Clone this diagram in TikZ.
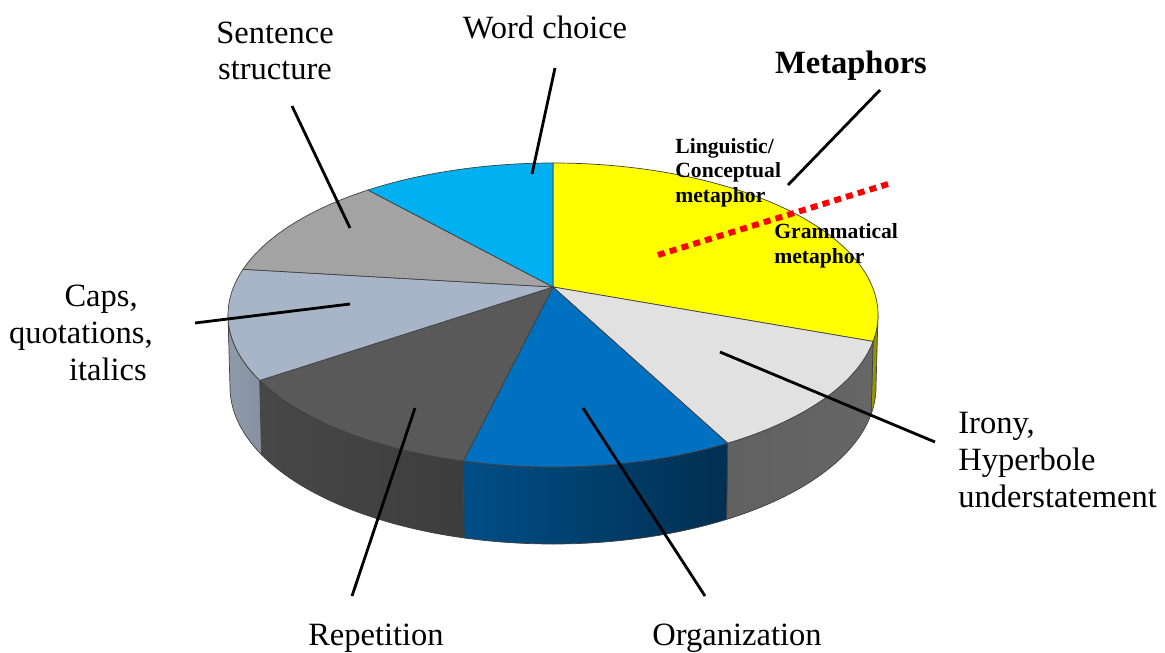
\documentclass[tikz,border=0pt]{standalone}
\usepackage{fontspec}
\setmainfont{Liberation Serif}
\usepackage{xcolor}
\usepackage{tikz}
\usetikzlibrary{positioning, calc}

\definecolor{metaYel}{HTML}{FFFF00}
\definecolor{ironyGray}{HTML}{E1E1E1}
\definecolor{orgBlue}{HTML}{0070C0}
\definecolor{repGray}{HTML}{595959}
\definecolor{capsSteel}{HTML}{A8B5C8}
\definecolor{sentGray}{HTML}{A3A3A3}
\definecolor{wordBlue}{HTML}{00B0F0}

\begin{document}
\begin{tikzpicture}[
  x=0.02cm, y=0.02cm,
  font=\fontsize{18.5}{21}\selectfont,
  slice/.style={draw=black!75, line width=0.4pt},
  wall/.style={draw=black!75, line width=0.4pt},
  lbl/.style={inner sep=0pt, anchor=base},
  small/.style={inner sep=0pt, anchor=base west, align=left,
    font=\fontsize{12.3}{13.9}\selectfont\bfseries},
  leader/.style={line width=1.6pt},
  cut/.style={draw=red, line width=3.4pt, dash pattern=on 4pt off 3pt},
]
  \useasboundingbox (0,0) rectangle (1165,-652);

  % Side walls (front half only)
  \foreach \a/\b/\colL/\colR in {0/-10/yellow!60!black/yellow!55!black,
                                -10/-57.5/black!62/black!60,
                                -57.5/-106/orgBlue!70!black/orgBlue!42!black,
                                -106/-154.5/black!72/black!76,
                                -154.5/-180/capsSteel!85!black/capsSteel!80!black}
    \path[wall, left color=\colL, right color=\colR]
      ([shift={(553,-315)}]\a:325 and 152)
      arc[start angle=\a, end angle=\b, x radius=325, y radius=152]
      -- ([shift={(553,-387)}]\b:323 and 157)
      arc[start angle=\b, end angle=\a, x radius=323, y radius=157] -- cycle;

  % Top slices
  \foreach \a/\b/\col in {90/-10/metaYel, -10/-57.5/ironyGray,
                          -57.5/-106/orgBlue, -106/-154.5/repGray,
                          205.5/162.5/capsSteel, 162.5/124.7/sentGray,
                          124.7/90/wordBlue}
    \filldraw[slice, fill=\col] (553,-287)
      -- ([shift={(553,-315)}]\a:325 and 152)
      arc[start angle=\a, end angle=\b, x radius=325, y radius=152] -- cycle;

  % Labels (base = last line)
  \node[lbl] (wordC) at (545,-39) {Word choice};
  \node[lbl, align=center] (sentS) at (275,-80) {Sentence\\structure};
  \node[lbl, font=\fontsize{18.5}{21}\selectfont\bfseries] (metaN) at (851,-73) {Metaphors};
  \node[small] (lingN) at (675,-202) {Linguistic/\\Conceptual\\metaphor};
  \node[small] (gramN) at (774,-263) {Grammatical\\metaphor};
  \node[lbl, anchor=base east, align=right] (capsN) at (153,-380)
    {Caps,\hspace*{0.46em}\\quotations,\\italics\hspace*{0.18em}};
  \node[lbl, anchor=base west, align=left] (ironyN) at (958,-507)
    {Irony,\\Hyperbole\\understatement};
  \node[lbl] (repN) at (376,-645) {Repetition};
  \node[lbl] (orgN) at (737,-645) {Organization};

  % Leader ends
  \coordinate (wordA) at (555,-68);   \coordinate (wordB) at (532,-174);
  \coordinate (sentA) at (292,-106);  \coordinate (sentB) at (350,-228);
  \coordinate (metaA) at (880,-90);   \coordinate (metaB) at (788,-185);
  \coordinate (capsA) at (195,-323);  \coordinate (capsB) at (350,-304);
  \coordinate (ironyA) at (935,-442); \coordinate (ironyB) at (720,-352);
  \coordinate (repA) at (352,-596);   \coordinate (repB) at (415,-408);
  \coordinate (orgA) at (705,-596);   \coordinate (orgB) at (583,-408);
  \coordinate (cutA) at (658,-255);   \coordinate (cutB) at (888,-184);

  \foreach \s/\t in {wordA/wordB, sentA/sentB, metaA/metaB, capsA/capsB,
                     ironyA/ironyB, repA/repB, orgA/orgB}
    \draw[leader] (\s) -- (\t);

  % Metaphor split
  \draw[cut] (cutA) -- (cutB);
\end{tikzpicture}
\end{document}
